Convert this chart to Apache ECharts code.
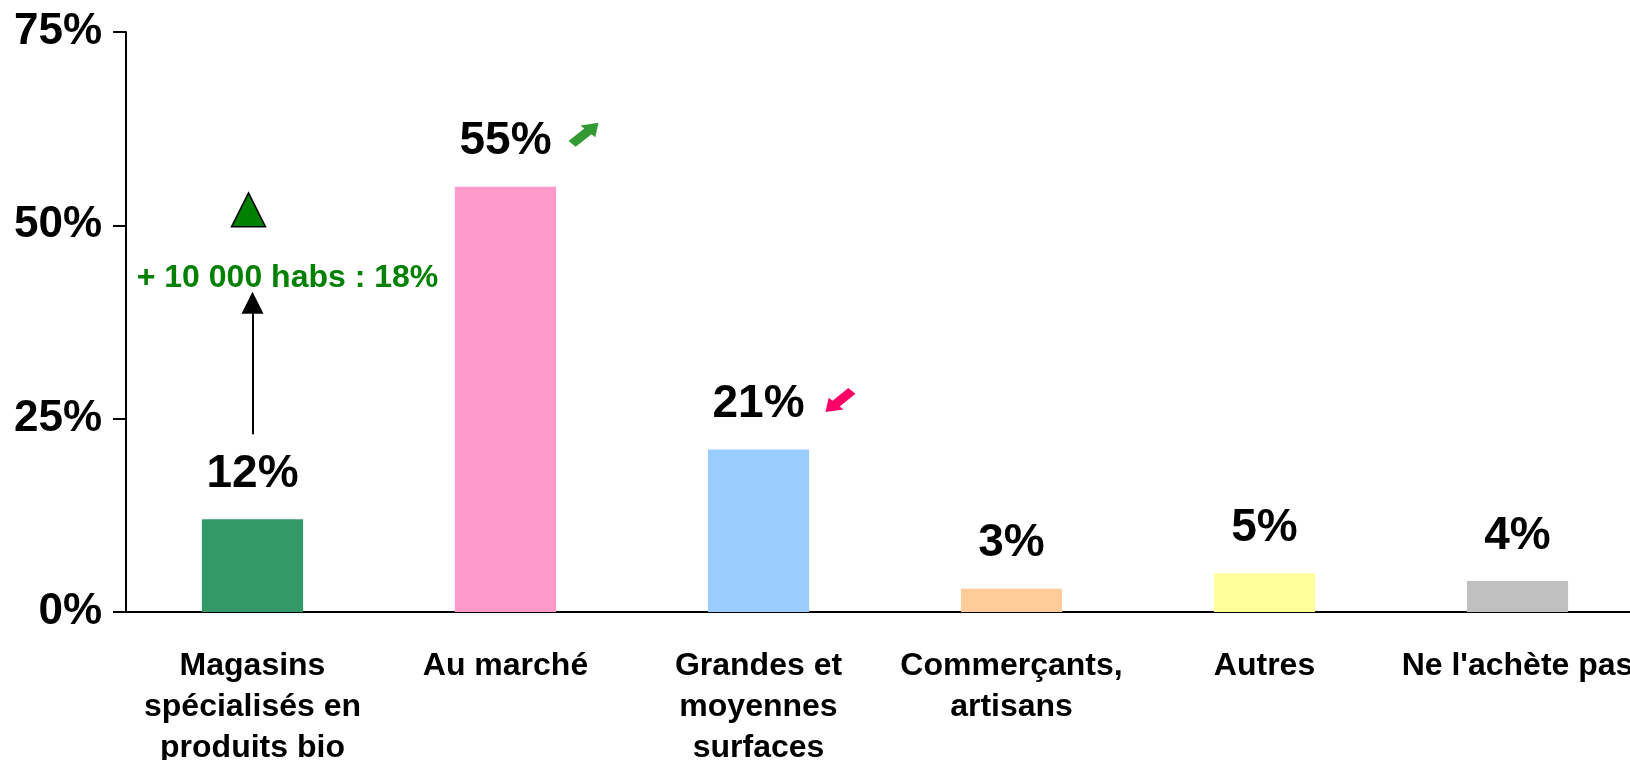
<!DOCTYPE html>
<html>
<head>
<meta charset="utf-8">
<script src="https://cdn.jsdelivr.net/npm/echarts@6/dist/echarts.min.js"></script>
<style>
  html, body { margin: 0; padding: 0; background: #fff; }
  #chart { width: 1630px; height: 760px; }
</style>
</head>
<body>
<div id="chart"></div>
<script>
const categories = [
  "Magasins\nspécialisés en\nproduits bio",
  "Au marché",
  "Grandes et\nmoyennes\nsurfaces",
  "Commerçants,\nartisans",
  "Autres",
  "Ne l'achète pas",
];
const values = [12, 55, 21, 3, 5, 4];
const barColors = ["#339966", "#FF99CC", "#99CCFF", "#FFCC99", "#FFFF99", "#C0C0C0"];
const yTicks = { min: 0, max: 75, step: 25 };

// note sur le premier bâton
const noteText = "+ 10 000 habs : 18%";
const noteValue = 43.2;
const noteTriangleValue = 52;
const noteArrow = [23, 40];

// flèches d'évolution
const trendUp = { category: 1, value: 61.7 };
const trendDown = { category: 2, value: 27.4 };

const font = "'Liberation Sans', Arial, sans-serif";
const arrowUp = "path://M0 76 L52.6 23.4 L39.9 10.7 L100 0 L89.3 60.1 L76.6 47.4 L24 100 Z";
const arrowDown = "path://M100 24 L47.4 76.6 L60.1 89.3 L0 100 L10.7 39.9 L23.4 52.6 L76 0 Z";

const chart = echarts.init(document.getElementById("chart"));

chart.setOption({
  animation: false,
  grid: { left: 126, top: 32, bottom: 148, right: -14, outerBoundsMode: "none" },
  xAxis: {
    type: "category",
    data: categories,
    axisLine: { lineStyle: { color: "#000", width: 2 } },
    axisTick: { length: 12, lineStyle: { color: "#000", width: 2 } },
    axisLabel: {
      interval: 0,
      margin: 34,
      color: "#000",
      fontFamily: font,
      fontWeight: "bold",
      fontSize: 32,
      lineHeight: 41,
    },
  },
  yAxis: {
    type: "value",
    min: yTicks.min,
    max: yTicks.max,
    interval: yTicks.step,
    axisLine: { show: true, lineStyle: { color: "#000", width: 2 } },
    axisTick: { show: true, length: 13, lineStyle: { color: "#000", width: 2 } },
    splitLine: { show: false },
    axisLabel: {
      margin: 24,
      color: "#000",
      fontFamily: font,
      fontWeight: "bold",
      fontSize: 44,
      formatter: "{value}%",
    },
  },
  series: [
    {
      type: "bar",
      barWidth: "40%",
      data: values.map((v, i) => ({ value: v, itemStyle: { color: barColors[i] } })),
      label: {
        show: true,
        position: "top",
        distance: 22,
        color: "#000",
        fontFamily: font,
        fontWeight: "bold",
        fontSize: 46,
        formatter: "{c}%",
      },
      markPoint: {
        silent: true,
        data: [
          {
            coord: [categories[0], noteTriangleValue],
            symbol: "triangle",
            symbolSize: [34, 34],
            symbolOffset: [-4, 0],
            itemStyle: { color: "#008000", borderColor: "#000", borderWidth: 1.5 },
            label: { show: false },
          },
          {
            coord: [categories[0], noteValue],
            symbol: "rect",
            symbolSize: 1,
            itemStyle: { color: "transparent" },
            label: {
              show: true,
              position: "inside",
              offset: [35, 0],
              formatter: noteText,
              color: "#008000",
              fontFamily: font,
              fontWeight: "bold",
              fontSize: 32,
            },
          },
          {
            coord: [categories[trendUp.category], trendUp.value],
            symbol: arrowUp,
            symbolSize: [30, 24],
            symbolOffset: [78, 0],
            itemStyle: { color: "#339933" },
            label: { show: false },
          },
          {
            coord: [categories[trendDown.category], trendDown.value],
            symbol: arrowDown,
            symbolSize: [30, 24],
            symbolOffset: [82, 0],
            itemStyle: { color: "#FF0066" },
            label: { show: false },
          },
        ],
      },
      markLine: {
        silent: true,
        symbol: ["none", "triangle"],
        symbolSize: 22,
        label: { show: false },
        lineStyle: { color: "#000", width: 2, type: "solid" },
        data: [
          [
            { coord: [categories[0], noteArrow[0]] },
            { coord: [categories[0], noteArrow[1]] },
          ],
        ],
      },
    },
  ],
});
</script>
</body>
</html>
